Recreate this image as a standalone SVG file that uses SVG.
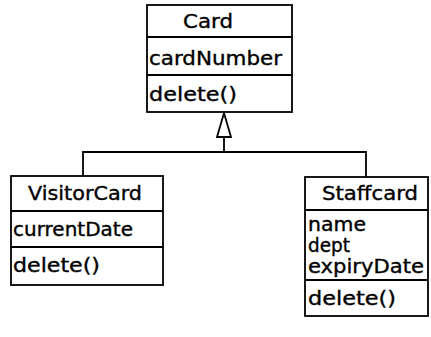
<svg xmlns="http://www.w3.org/2000/svg" width="431" height="337" viewBox="0 0 431 337">
<style>
.box{fill:#fff;stroke:#000;stroke-width:1.8}
.ln{fill:none;stroke:#000;stroke-width:1.8}
text{font-family:"DejaVu Sans","Liberation Sans",sans-serif;font-size:19px;fill:#000;stroke:#000;stroke-width:0.35}
</style>
<rect width="431" height="337" fill="#fff"/>
<g id="connectors">
<polyline class="ln" points="83,176 83,152 366,152 366,177"/>
<line class="ln" x1="224" y1="137" x2="224" y2="152"/>
<polygon class="ln" fill="#fff" points="224,113 217,137 231,137"/>
</g>
<g id="Card">
<rect class="box" x="147" y="5" width="145" height="107"/>
<line class="ln" x1="147" y1="37" x2="292" y2="37"/>
<line class="ln" x1="147" y1="75" x2="292" y2="75"/>
<text x="183" y="28" textLength="50" lengthAdjust="spacingAndGlyphs">Card</text>
<text x="149" y="65" textLength="133" lengthAdjust="spacingAndGlyphs">cardNumber</text>
<text x="149" y="101" textLength="88" lengthAdjust="spacingAndGlyphs">delete()</text>
</g>
<g id="VisitorCard">
<rect class="box" x="11" y="176" width="152" height="109"/>
<line class="ln" x1="11" y1="211" x2="163" y2="211"/>
<line class="ln" x1="11" y1="247" x2="163" y2="247"/>
<text x="28" y="200" textLength="114" lengthAdjust="spacingAndGlyphs">VisitorCard</text>
<text x="13" y="236" textLength="120" lengthAdjust="spacingAndGlyphs">currentDate</text>
<text x="13" y="272" textLength="87" lengthAdjust="spacingAndGlyphs">delete()</text>
</g>
<g id="Staffcard">
<rect class="box" x="305" y="177" width="123" height="139"/>
<line class="ln" x1="305" y1="210" x2="428" y2="210"/>
<line class="ln" x1="305" y1="280" x2="428" y2="280"/>
<text x="322" y="200" textLength="96" lengthAdjust="spacingAndGlyphs">Staffcard</text>
<text x="308" y="231" textLength="58" lengthAdjust="spacingAndGlyphs">name</text>
<text x="308" y="252" textLength="42" lengthAdjust="spacingAndGlyphs">dept</text>
<text x="308" y="273" textLength="116" lengthAdjust="spacingAndGlyphs">expiryDate</text>
<text x="308" y="305" textLength="88" lengthAdjust="spacingAndGlyphs">delete()</text>
</g>
</svg>
